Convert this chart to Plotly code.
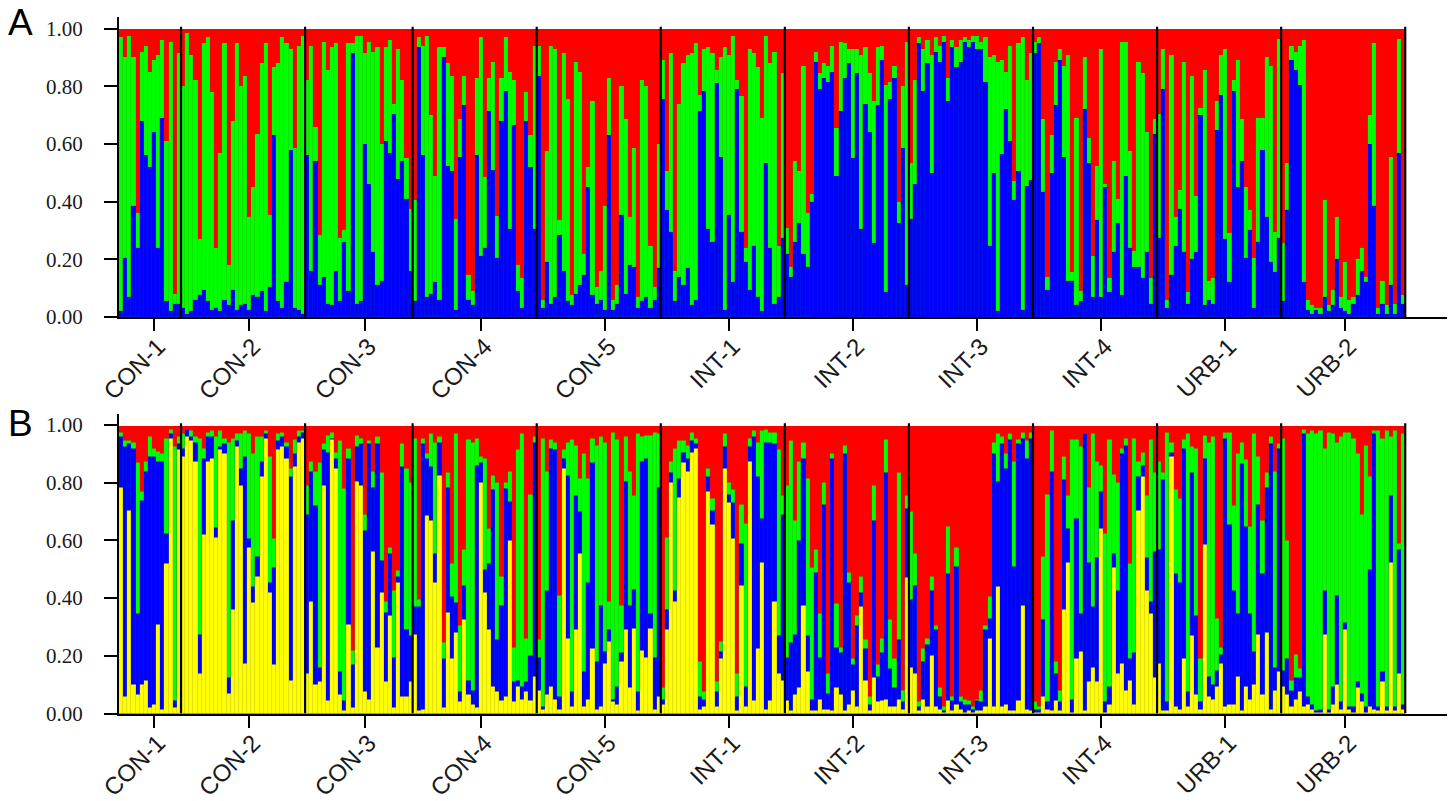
import plotly.graph_objects as go

populations = ["CON-1","CON-2","CON-3","CON-4","CON-5","INT-1","INT-2","INT-3","INT-4","URB-1","URB-2"]
pop_sizes = [15,30,26,30,30,30,30,30,30,30,30]
tick_index = [8,31,59,87,117,147,177,207,237,267,296]
y_ticks = [0,0.2,0.4,0.6,0.8,1.0]

# Panel A: cumulative tops (blue, then green; red fills to 1)
A_blue = [
 .02,.205,.07,.385,.24,.68,.56,.52,.64,.24,.69,.055,.02,.045,.045,
 .03,.01,.02,.06,.075,.095,.055,.025,.03,.02,.06,.04,.095,.025,.04,.045,.025,.075,.07,.09,.02,.105,.63,.055,.03,.12,.58,.03,.025,.01,
 .56,.16,.54,.11,.14,.045,.04,.16,.055,.26,.09,.915,.045,.055,.60,.46,.225,.11,.125,.61,.57,.705,.48,.54,.41,.16,
 .055,.935,.56,.07,.08,.12,.06,.90,.525,.505,.025,.555,.735,.06,.04,.56,.21,.24,.715,.51,.205,.68,.785,.305,.665,.09,.03,.68,.52,.305,
 .835,.03,.19,.045,.07,.285,.16,.055,.04,.08,.11,.145,.45,.075,.045,.06,.025,.63,.025,.045,.355,.08,.18,.175,.03,.055,.07,.03,.06,.17,
 .755,.37,.295,.055,.14,.11,.17,.04,.06,.715,.785,.305,.26,.81,.555,.025,.355,.12,.79,.295,.19,.095,.245,.07,.02,.535,.24,.045,.07,.275,
 .22,.14,.26,.325,.22,.175,.40,.885,.79,.83,.815,.85,.49,.715,.83,.88,.55,.845,.305,.74,.64,.255,.735,.89,.085,.755,.83,.325,.585,.11,
 .34,.46,.95,.785,.88,.50,.92,.885,.955,.75,.935,.865,.885,.955,.935,.955,.93,.93,.815,.245,.50,.02,.565,.72,.61,.405,.505,.025,.455,.475,
 .915,.95,.435,.095,.50,.735,.89,.555,.125,.125,.04,.055,.72,.535,.07,.335,.07,.45,.085,.225,.325,.075,.49,.24,.175,.175,.135,.225,.045,.635,
 .275,.79,.03,.145,.245,.375,.225,.045,.20,.225,.70,.04,.06,.045,.65,.77,.27,.12,.785,.45,.54,.205,.30,.03,.26,.58,.345,.19,.155,.275,
 .055,.37,.89,.855,.805,.12,.025,.01,.025,.01,.07,.02,.04,.20,.03,.02,.01,.045,.075,.16,.12,.60,.385,.01,.045,.01,.11,.01,.57,.045,
]
A_green = [
 .97,.90,.975,.90,.36,.92,.94,.85,.89,.91,.96,.61,.955,.08,.915,
 .80,.985,.91,.82,.27,.95,.97,.78,.24,.57,.95,.18,.68,.95,.80,.835,.345,.45,.635,.88,.95,.355,.865,.88,.97,.95,.93,.585,.94,.975,
 .82,.94,.66,.285,.955,.855,.935,.95,.275,.30,.95,.95,.975,.975,.915,.955,.92,.935,.60,.935,.96,.74,.93,.82,.55,.375,
 .405,.97,.94,.975,.70,.49,.935,.935,.88,.835,.34,.685,.835,.145,.09,.83,.97,.485,.83,.885,.35,.83,.97,.85,.82,.18,.135,.78,.63,.94,
 .94,.06,.575,.94,.93,.335,.915,.755,.075,.885,.85,.22,.52,.75,.105,.16,.385,.83,.06,.11,.80,.685,.345,.585,.07,.82,.80,.245,.105,.60,
 .89,.505,.915,.16,.74,.88,.91,.915,.95,.77,.93,.935,.915,.855,.90,.935,.91,.975,.82,.765,.24,.93,.915,.865,.69,.975,.88,.92,.245,.845,
 .31,.175,.54,.505,.87,.36,.425,.92,.845,.88,.87,.94,.655,.955,.95,.93,.93,.93,.91,.935,.845,.75,.935,.94,.805,.815,.87,.40,.80,.955,
 .535,.82,.97,.93,.96,.91,.97,.94,.975,.83,.96,.935,.96,.97,.96,.975,.975,.955,.97,.90,.91,.885,.89,.85,.94,.47,.95,.97,.82,.915,
 .955,.97,.685,.14,.63,.885,.93,.87,.91,.155,.69,.09,.90,.62,.21,.525,.93,.46,.135,.54,.41,.955,.955,.575,.23,.885,.845,.64,.135,.685,
 .705,.93,.06,.91,.345,.44,.885,.085,.835,.42,.725,.855,.125,.135,.75,.91,.93,.29,.82,.89,.685,.45,.37,.205,.69,.69,.90,.87,.295,.965,
 .255,.535,.94,.92,.94,.96,.06,.04,.03,.03,.405,.04,.095,.345,.07,.19,.06,.07,.20,.24,.14,.70,.95,.03,.125,.04,.555,.045,.965,.075,
]

# Panel B: cumulative tops (yellow, blue, green; red fills to 1)
B_yellow = [
 .785,.06,.705,.10,.065,.10,.115,.02,.03,.31,.015,.52,.955,.02,.915,
 .89,.96,.945,.875,.14,.62,.875,.885,.61,.915,.90,.07,.36,.925,.79,.175,.575,.385,.475,.82,.955,.42,.17,.915,.925,.885,.115,.855,.94,.955,
 .14,.39,.10,.11,.79,.045,.95,.85,.065,.01,.31,.02,.805,.79,.075,.05,.56,.23,.42,.11,.34,.02,.455,.06,.06,.11,
 .275,.01,.015,.685,.67,.455,.825,.02,.35,.19,.28,.04,.325,.065,.03,.02,.80,.42,.29,.095,.075,.045,.06,.60,.04,.095,.05,.075,.045,.13,
 .08,.015,.065,.095,.05,.015,.85,.26,.025,.29,.555,.025,.05,.225,.015,.025,.175,.25,.04,.03,.18,.29,.09,.295,.01,.22,.195,.295,.015,.06,
 .03,.29,.80,.39,.75,.87,.84,.905,.92,.015,.025,.77,.655,.025,.19,.85,.73,.605,.01,.445,.025,.875,.045,.225,.525,.015,.045,.39,.14,.115,
 .045,.01,.065,.09,.375,.145,.01,.01,.05,.015,.015,.01,.09,.065,.01,.03,.08,.025,.37,.115,.01,.125,.04,.045,.05,.025,.025,.05,.015,.47,
 .16,.14,.01,.05,.025,.20,.025,.015,.005,.045,.01,.03,.015,.005,.01,.005,.01,.01,.025,.26,.025,.44,.025,.03,.01,.01,.045,.375,.015,.01,
 .005,.005,.06,.015,.01,.045,.01,.36,.525,.005,.19,.215,.01,.11,.16,.11,.64,.005,.03,.505,.14,.175,.08,.115,.03,.705,.82,.425,.345,.125,
 .175,.01,.01,.89,.025,.015,.19,.025,.27,.065,.015,.585,.06,.05,.095,.175,.025,.03,.03,.13,.01,.095,.05,.10,.275,.065,.28,.015,.08,.145,
 .095,.065,.025,.05,.075,.025,.03,.015,.005,.005,.275,.005,.03,.10,.015,.29,.015,.005,.09,.04,.005,.025,.015,.01,.11,.01,.525,.01,.14,.015,
]
B_blue = [
 .96,.925,.935,.92,.345,.74,.84,.89,.89,.875,.875,.625,.97,.045,.935,
 .92,.985,.96,.94,.275,.885,.96,.96,.645,.925,.935,.125,.67,.945,.85,.89,.605,.44,.545,.875,.97,.455,.505,.945,.96,.925,.82,.90,.96,.975,
 .69,.84,.72,.16,.915,.905,.955,.885,.145,.045,.885,.17,.925,.935,.635,.935,.785,.935,.53,.35,.555,.195,.475,.855,.29,.27,
 .37,.37,.935,.885,.855,.555,.94,.19,.785,.405,.385,.075,.445,.115,.08,.86,.87,.50,.52,.775,.255,.375,.78,.735,.11,.115,.095,.11,.20,.94,
 .195,.025,.425,.92,.915,.06,.885,.825,.075,.755,.70,.145,.455,.87,.18,.375,.215,.29,.05,.095,.21,.805,.375,.43,.075,.875,.885,.345,.195,.785,
 .05,.36,.835,.425,.815,.905,.885,.945,.935,.06,.05,.82,.705,.075,.215,.925,.76,.73,.06,.59,.095,.925,.96,.82,.675,.94,.94,.935,.27,.69,
 .195,.245,.275,.60,.885,.27,.05,.49,.195,.725,.07,.885,.23,.21,.90,.455,.17,.305,.42,.225,.03,.67,.13,.21,.835,.155,.09,.255,.04,.71,
 .395,.445,.025,.18,.24,.425,.29,.06,.01,.485,.045,.51,.04,.03,.03,.015,.045,.04,.29,.33,.90,.805,.935,.85,.95,.51,.935,.955,.885,.955,
 .015,.015,.325,.04,.84,.14,.04,.81,.64,.05,.675,.345,.97,.525,.37,.54,.77,.04,.095,.555,.425,.90,.93,.19,.21,.82,.86,.54,.39,.56,
 .57,.81,.04,.905,.485,.455,.92,.075,.835,.34,.04,.885,.13,.10,.15,.205,.955,.655,.425,.345,.865,.65,.345,.215,.725,.485,.785,.935,.16,.92,
 .15,.19,.08,.125,.125,.97,.06,.03,.01,.015,.425,.015,.095,.41,.04,.315,.025,.025,.11,.07,.025,.50,.97,.025,.145,.025,.755,.025,.57,.03,
]
B_green = [
 .975,.945,.945,.94,.87,.77,.875,.96,.92,.91,.90,.955,.985,.925,.96,
 .97,.985,.98,.96,.955,.92,.975,.98,.96,.98,.955,.94,.955,.97,.97,.98,.97,.90,.96,.96,.98,.89,.605,.97,.975,.94,.85,.95,.98,.98,
 .79,.875,.84,.87,.935,.965,.975,.905,.945,.78,.92,.22,.965,.955,.69,.945,.84,.96,.835,.39,.575,.425,.495,.935,.85,.80,
 .955,.395,.955,.90,.97,.94,.96,.245,.835,.52,.97,.305,.57,.95,.94,.955,.89,.885,.64,.825,.80,.475,.80,.84,.23,.915,.97,.26,.76,.96,
 .255,.955,.84,.95,.94,.41,.915,.94,.95,.93,.815,.90,.815,.955,.93,.96,.94,.39,.975,.95,.375,.96,.84,.755,.97,.96,.965,.965,.975,.97,
 .09,.61,.875,.92,.945,.945,.93,.975,.955,.18,.075,.85,.745,.11,.25,.97,.80,.775,.14,.725,.66,.955,.98,.94,.98,.985,.975,.975,.915,.755,
 .79,.945,.67,.875,.94,.815,.505,.57,.345,.80,.14,.90,.38,.23,.93,.49,.19,.34,.475,.255,.06,.79,.17,.26,.95,.325,.19,.835,.08,.755,
 .70,.555,.04,.225,.26,.475,.305,.09,.025,.65,.06,.575,.06,.05,.045,.025,.05,.08,.305,.405,.94,.97,.96,.90,.97,.875,.95,.975,.945,.975,
 .04,.025,.545,.76,.98,.18,.08,.89,.755,.95,.95,.925,.97,.785,.97,.875,.86,.625,.95,.83,.80,.92,.955,.52,.955,.875,.905,.755,.95,.835,
 .875,.835,.975,.94,.775,.745,.95,.97,.925,.92,.19,.965,.94,.96,.33,.23,.975,.975,.72,.90,.94,.88,.65,.97,.89,.67,.835,.96,.84,.935,
 .955,.60,.115,.205,.155,.985,.97,.98,.97,.98,.92,.975,.97,.94,.96,.975,.975,.955,.90,.69,.93,.82,.98,.98,.955,.98,.96,.98,.59,.97,
]

n = sum(pop_sizes)
for arr in (A_blue, A_green, B_yellow, B_blue, B_green):
    assert len(arr) == n, len(arr)
idx = list(range(n))

RED, GREEN, BLUE, YELLOW = "#ff0000", "#00ff00", "#0000ff", "#ffff00"

def bars(values, color, axis):
    lw = 0 if color == RED else 0.2
    return go.Bar(x=idx, y=values, marker=dict(color=color, line=dict(width=lw, color="rgba(60,60,60,0.12)")),
                  xaxis=f"x{axis}", yaxis=f"y{axis}", showlegend=False, hoverinfo="skip")

fig = go.Figure()
for axis, stacks in ((1, [([1]*n, RED), (A_green, GREEN), (A_blue, BLUE)]),
                     (2, [([1]*n, RED), (B_green, GREEN), (B_blue, BLUE), (B_yellow, YELLOW)])):
    for vals, col in stacks:
        fig.add_trace(bars(vals, col, axis))
    sx, sy, c = [], [], -0.5
    for s in pop_sizes:
        c += s
        sx += [c, c, None]
        sy += [0, 1.006, None]
    fig.add_trace(go.Scatter(x=sx, y=sy, mode="lines", line=dict(color="black", width=2.2),
                             xaxis=f"x{axis}", yaxis=f"y{axis}", showlegend=False, hoverinfo="skip"))

W, H = 1453, 801
def yd(top, bottom):
    return [1 - bottom / H, 1 - top / H]

xcommon = dict(range=[-0.5, 320.6], domain=[119 / W, 1447 / W], showgrid=False, zeroline=False, automargin=False,
               showline=True, linecolor="black", linewidth=2, ticks="outside", ticklen=12, tickwidth=2,
               tickcolor="black", tickmode="array", tickvals=tick_index, ticktext=populations, tickangle=-45,
               ticklabelstandoff=-8, ticklabelshift=4,
               tickfont=dict(family="Liberation Sans", size=24, color="#1a1a1a"))
ycommon = dict(range=[0, 1.04], showgrid=False, zeroline=False, showline=True, linecolor="black", linewidth=2,
               automargin=False,
               ticks="outside", ticklen=13, tickwidth=2, tickcolor="black", tickmode="array", tickvals=y_ticks,
               tickformat=".2f", ticklabelstandoff=17,
               tickfont=dict(family="Liberation Serif", size=21, color="#1a1a1a"))

fig.update_layout(
    width=W, height=H, margin=dict(l=0, r=0, t=0, b=0), paper_bgcolor="white", plot_bgcolor="white",
    barmode="overlay", bargap=0,
    xaxis=dict(xcommon, anchor="y"), yaxis=dict(ycommon, domain=yd(17, 317), anchor="x"),
    xaxis2=dict(xcommon, anchor="y2"), yaxis2=dict(ycommon, domain=yd(413.5, 713.5), anchor="x2"),
    annotations=[
        dict(text="A", x=20 / W, y=1 - 23 / H, xref="paper", yref="paper", showarrow=False, xanchor="center", yanchor="middle",
             font=dict(family="Liberation Sans", size=37, color="black")),
        dict(text="B", x=20 / W, y=1 - 424 / H, xref="paper", yref="paper", showarrow=False, xanchor="center", yanchor="middle",
             font=dict(family="Liberation Sans", size=37, color="black")),
    ],
)
fig.write_html("out.html", config={"displayModeBar": False},
               post_script="document.body.style.margin='0';document.body.style.overflow='hidden';")
